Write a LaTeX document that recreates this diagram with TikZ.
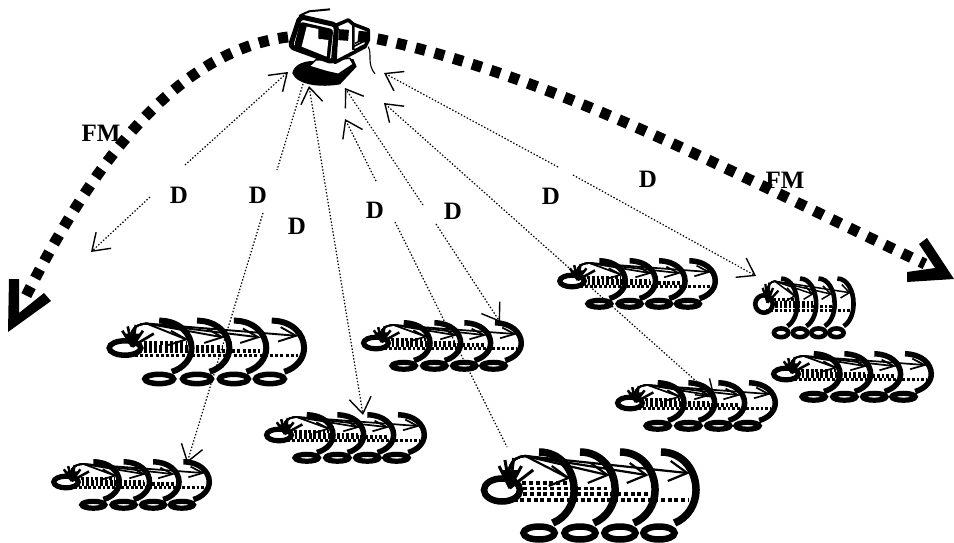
\documentclass[tikz,border=0pt]{standalone}
\usepackage{fontspec}
\setmainfont{Liberation Serif}
\usetikzlibrary{arrows.meta}
\tikzset{
  lab/.style={font=\fontsize{25}{25}\selectfont\bfseries,inner sep=0pt,text=black},
  sig/.style={line width=1.2pt,dash pattern=on 1.4pt off 1.9pt},
  barb/.tip={Straight Barb[length=16pt,width=22pt,line width=1.4pt,sep=0pt]},
  sighead/.style={sig,-barb},
  sigboth/.style={sig,barb-barb},
  fmdots/.style={line width=11pt,dash pattern=on 10pt off 9.6pt},
  mon/.style={line join=round},
}
\def\lrx{15}\def\lry{10}
% #1 x, #2 y, #3 xscale, #4 yscale, #5 dash on, #6 dash off, #7 arc width, #8 ring width, #9 thin width
\newcommand{\mycluster}[9]{%
  \begin{scope}[shift={(#1,#2)},xscale=#3,yscale=#4]
    \foreach \dx in {0,42,83,125}{
      \draw[line width=#7pt] (38+\dx,-38) .. controls (60+\dx,-38) and (74+\dx,-20) .. (74+\dx,0)
        .. controls (74+\dx,15) and (65+\dx,28) .. (52+\dx,33);
    }
    \foreach \ex in {38,80,121,161}{
      \draw[line width=#8pt] (\ex,43) ellipse (16 and 6.5);
    }
    \draw[line width=#8pt] (0,0) ellipse [x radius=\lrx,y radius=\lry];
    \draw[line width=3.4pt,dash pattern=on #5pt off #6pt] (21,-7) -- (68,-7);
    \draw[line width=3.4pt,dash pattern=on #5pt off #6pt] (15,-1.5) -- (108,-1.5);
    \draw[line width=3.4pt,dash pattern=on #5pt off #6pt] (15,4) -- (150,4);
    \draw[line width=3.4pt,dash pattern=on #5pt off #6pt] (5,10) -- (192,10);
    \foreach \tx/\ty in {68/-12,108/-15,148/-15,190/-17}{
      \draw[line width=#9pt] (8,-2) .. controls (4,-20) and (8,-33) .. (24,-34) -- (\tx,\ty);
      \draw[line width=#9pt] (\tx-20,\ty+8) -- (\tx,\ty) -- (\tx-17,\ty-12);
    }
    \fill (8,-2) -- (0,-20) -- (17,-20) -- cycle;
    \foreach \spx/\spy in {-3/-24,3/-30,12/-32,20/-24,32/-20}{
      \draw[line width=#9pt+0.8pt] (8,-2) -- (\spx,\spy);
    }
  \end{scope}
}
\begin{document}
\begin{tikzpicture}[x=1pt,y=-1pt]
\useasboundingbox (0,0) rectangle (954,543);

% clusters
\def\lrx{18.5}\def\lry{11.5}
\mycluster{502}{490}{.975}{1}{4}{2.7}{7.5}{6.5}{2.2}
\def\lrx{17.5}\def\lry{10}
\mycluster{125}{348}{.9}{.72}{3}{2.2}{6}{5.5}{1.9}
\def\lrx{17}\def\lry{11}
\mycluster{376}{343}{.73}{.53}{2.8}{1.9}{5.5}{5.2}{1.7}
\mycluster{279}{435}{.73}{.53}{2.8}{1.9}{5.5}{5.2}{1.7}
\mycluster{66}{482}{.72}{.53}{2.8}{1.9}{5.5}{5.2}{1.7}
\mycluster{572}{281}{.72}{.53}{2.8}{1.9}{5.5}{5.2}{1.7}
\mycluster{630}{403}{.73}{.53}{2.8}{1.9}{5.5}{5.2}{1.7}
\mycluster{786}{374}{.73}{.53}{2.8}{1.9}{5.5}{5.2}{1.7}
\def\lrx{19.5}\def\lry{13}
\mycluster{764}{304}{.45}{.67}{2.5}{2}{4.6}{4.6}{1.5}

% left FM arc (behind the monitor)
\coordinate (fmLstart) at (288,37);
\coordinate (fmLend) at (22,304);
\draw[fmdots] (fmLstart) .. controls (165,52) and (80,188) .. (fmLend);
\fill (9,279) -- (19,279) -- (19,313) -- (44,293) -- (51,301) -- (8,332) -- cycle;

% monitor
\begin{scope}[shift={(285,5)},scale=1/3,mon]
  \fill (22,205) .. controls (25,183) and (50,168) .. (85,168) -- (205,162) -- (215,185) -- (165,238)
     .. controls (110,248) and (38,242) .. (22,205) -- cycle;
  \draw[fill=white,line width=1.5pt] (72,184) -- (92,165) -- (195,160) -- (205,178) -- (160,208) -- (125,200) -- cycle;
  \draw[fill=white,line width=3.6pt] (155,60) -- (190,45) -- (205,58) -- (250,75) -- (250,105) -- (240,125) -- (150,172) -- cycle;
  \draw[line width=2.4pt] (190,45) -- (205,58) -- (205,135);
  \draw[fill=white,line width=5pt,rounded corners=4pt] (45,35) -- (155,60) -- (145,172) -- (15,125) -- cycle;
  \fill[rounded corners=3pt] (46,50) -- (145,73) -- (134,166) -- (27,125) -- cycle;
  \fill[white] (65,65) -- (100,72) -- (100,100) -- (130,105) -- (125,155) -- (50,125) -- cycle;
  \draw[line width=2pt] (42,33) -- (72,19) -- (135,13);
  \draw[line width=1.5pt] (210,115) -- (232,105);
  \draw[line width=1.5pt] (205,125) -- (235,110);
  \draw[line width=1.5pt] (208,135) -- (237,120);
  \draw[line width=1.1pt] (250,125) .. controls (262,150) and (245,175) .. (270,207);
\end{scope}

% right FM arc
\coordinate (fmRstart) at (319,33.5);
\coordinate (fmRmid) at (383,40);
\coordinate (fmRend) at (925,264);
\draw[fmdots] (fmRstart) .. controls (345,35) and (365,36) .. (fmRmid) .. controls (564,80) and (744,179) .. (fmRend);
\fill (927,238) -- (954,279) -- (907,282) -- (907,272) -- (935,268) -- (919,244) -- cycle;

% labels
\node[lab] (fm1) at (101,133) {FM};
\node[lab] (fm2) at (785,180) {FM};
\node[lab] (d1) at (179,195) {D};
\node[lab] (d2) at (258,195) {D};
\node[lab] (d3) at (297,226) {D};
\node[lab] (d4) at (375,210) {D};
\node[lab] (d5) at (453,211) {D};
\node[lab] (d6) at (551,196) {D};
\node[lab] (d7) at (648,179) {D};

% connector ends
\coordinate (a1) at (288,72);   \coordinate (a1m) at (185,165);
\coordinate (a1n) at (150,197); \coordinate (a1e) at (91,252);
\coordinate (a2) at (303,84);   \coordinate (a2m) at (277,170);
\coordinate (a2n) at (263,213); \coordinate (a2e) at (187,463);
\coordinate (a3) at (309,86);   \coordinate (a3e) at (363,415);
\coordinate (a4) at (345,119);  \coordinate (a4m) at (376,181);
\coordinate (a4n) at (395,222); \coordinate (a4e) at (507,447);
\coordinate (a5) at (345,88);   \coordinate (a5m) at (423,205);
\coordinate (a5n) at (436,224); \coordinate (a5e) at (500,322);
\coordinate (a6) at (384,103);  \coordinate (a6e) at (715,398);
\coordinate (a7) at (384,73);   \coordinate (a7m) at (558,167);
\coordinate (a7n) at (573,175); \coordinate (a7e) at (756,276);

% connectors
\draw[sighead] (a1m) -- (a1);
\draw[sighead] (a1n) -- (a1e);
\draw[sig] (a2) -- (a2m);
\draw[sighead] (a2n) -- (a2e);
\draw[sigboth] (a3) -- (a3e);
\draw[sighead] (a4m) -- (a4);
\draw[sig] (a4n) -- (a4e);
\draw[sighead] (a5m) -- (a5);
\draw[sighead] (a5n) -- (a5e);
\draw[sigboth] (a6) -- (a6e);
\draw[sighead] (a7m) -- (a7);
\draw[sighead] (a7n) -- (a7e);
\end{tikzpicture}
\end{document}
